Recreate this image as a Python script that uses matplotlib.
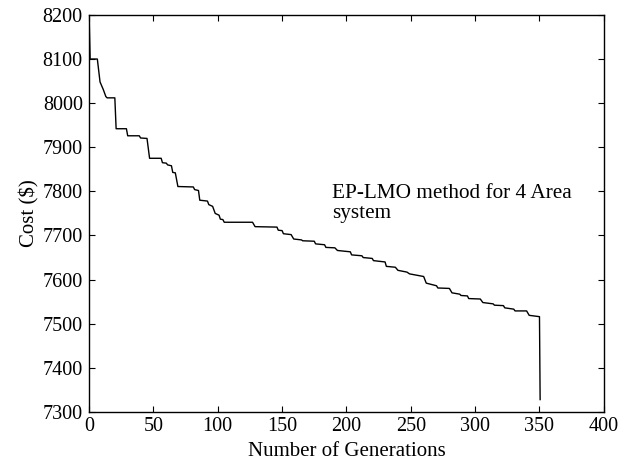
#! /usr/bin/env python3

'''
Cost convergence of the EP-LMO method (4 area system)
'''

import matplotlib.pyplot as plt

# points
generations = [0, 0.8, 6.4, 8.5, 11, 13, 14, 20, 21, 29, 30, 39, 40, 45, 47, 56, 57, 60,
               61, 64, 65, 67, 69, 81, 82, 85, 86, 92, 93, 96, 98, 101, 102, 104, 105,
               127, 129, 146, 147, 150, 151, 157, 159, 165, 166, 175, 176, 183, 184, 191,
               193, 203, 204, 212, 213, 220, 221, 230, 231, 238, 240, 247, 249, 260, 262,
               270, 271, 280, 282, 288, 289, 294, 295, 304, 306, 314, 315, 322, 323, 330,
               331, 340, 342, 350, 350.5]
cost = [8200, 8100, 8100, 8048, 8031, 8015, 8012, 8012, 7942, 7942, 7926, 7926, 7921, 7920,
        7875, 7875, 7865, 7864, 7860, 7858, 7843, 7842, 7811, 7810, 7804, 7802, 7780, 7778,
        7770, 7766, 7750, 7746, 7737, 7736, 7730, 7730, 7720, 7719, 7712, 7711, 7704, 7702,
        7692, 7690, 7688, 7687, 7681, 7679, 7673, 7672, 7666, 7663, 7656, 7654, 7650, 7648,
        7643, 7640, 7630, 7628, 7621, 7617, 7613, 7607, 7592, 7586, 7581, 7580, 7570, 7567,
        7564, 7563, 7557, 7556, 7548, 7545, 7542, 7541, 7536, 7533, 7529, 7529, 7519, 7516,
        7328]

x_ticks = [0, 50, 100, 150, 200, 250, 300, 350, 400]
y_ticks = [7300, 7400, 7500, 7600, 7700, 7800, 7900, 8000, 8100, 8200]

def main():
    plt.rcParams['font.family'] = ['Liberation Serif', 'DejaVu Serif']

    fig = plt.figure(figsize=(6.41, 4.66), dpi=100)
    ax = fig.add_axes([0.139, 0.116, 0.803, 0.852])

    ax.plot(generations, cost, color='black', linewidth=1.0)

    ax.set_xlim(0, 400)
    ax.set_ylim(7300, 8200)
    ax.set_xticks(x_ticks)
    ax.set_yticks(y_ticks)
    ax.tick_params(direction='in', top=True, right=True, length=4, width=0.8,
                   labelsize=14.5)
    ax.tick_params(axis='x', pad=4)
    ax.tick_params(axis='y', pad=4.5)
    for s in ax.spines.values():
        s.set_linewidth(1.0)

    ax.set_xlabel('Number of Generations', fontsize=15, labelpad=4)
    ax.set_ylabel('Cost ($)', fontsize=15, labelpad=2)

    ax.text(189, 7785, 'EP-LMO method for 4 Area', fontsize=15.3,
            ha='left', va='baseline')
    ax.text(189, 7740, 'system', fontsize=15.3, ha='left', va='baseline')

    fig.savefig('out.png', dpi=100)

if __name__ == '__main__':
    main()
